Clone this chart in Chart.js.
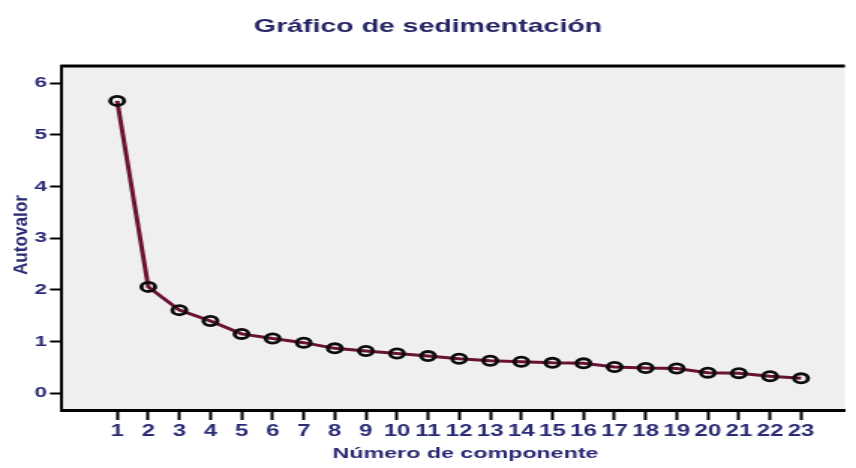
<!DOCTYPE html>
<html>
<head>
<meta charset="utf-8">
<script src="https://cdn.jsdelivr.net/npm/chart.js@4"></script>
<style>
  html, body { margin: 0; padding: 0; background: #fff; overflow: hidden; }
  #scree { display: block; transform: scaleX(1.4991); transform-origin: 0 0; }
</style>
</head>
<body>
<canvas id="scree" width="571" height="468"></canvas>
<script>
const components = [1, 2, 3, 4, 5, 6, 7, 8, 9, 10, 11, 12, 13, 14, 15, 16, 17, 18, 19, 20, 21, 22, 23];
const eigenvalues = [5.66, 2.06, 1.61, 1.40, 1.15, 1.06, 0.98, 0.87, 0.82, 0.77, 0.72, 0.67,
  0.63, 0.61, 0.59, 0.58, 0.51, 0.49, 0.48, 0.40, 0.39, 0.33, 0.29];
const yTicks = [0, 1, 2, 3, 4, 5, 6];

const navy = "#2b2b75";

const plotBg = {
  id: "plotBg",
  beforeDraw(chart) {
    const { ctx, chartArea: a } = chart;
    ctx.save();
    ctx.fillStyle = "#efefef";
    ctx.fillRect(a.left, a.top, a.right - a.left, a.bottom - a.top);
    ctx.restore();
  },
  afterDraw(chart) {
    const { ctx, chartArea: a } = chart;
    ctx.save();
    ctx.strokeStyle = "#000";
    ctx.lineWidth = 3;
    ctx.beginPath();
    ctx.moveTo(a.left - 1, a.top);
    ctx.lineTo(a.right, a.top);
    ctx.stroke();

    ctx.fillStyle = navy;
    ctx.textAlign = "center";
    ctx.textBaseline = "middle";
    // x axis title sits a bit right of the plot centre in the original
    ctx.font = "bold 15.5px 'Liberation Sans'";
    ctx.fillText("Número de componente", 310.5, 454);

    // y axis title, narrow and tall like the original
    ctx.font = "bold 12px 'Liberation Sans'";
    ctx.translate(14.5, 235);
    ctx.rotate(-Math.PI / 2);
    ctx.scale(1.43, 1);
    ctx.fillText("Autovalor", 0, 0);
    ctx.restore();
  },
};

new Chart(document.getElementById("scree"), {
  type: "line",
  data: {
    datasets: [
      {
        data: components.map((c, i) => ({ x: c, y: eigenvalues[i] })),
        borderColor: "#6a1236",
        borderWidth: 3,
        pointRadius: 4.6,
        pointBorderWidth: 2.8,
        pointBorderColor: "#0c0c0c",
        pointBackgroundColor: "rgba(0,0,0,0)",
        tension: 0,
      },
    ],
  },
  options: {
    responsive: false,
    animation: false,
    devicePixelRatio: 1,
    layout: { padding: 0 },
    plugins: {
      legend: { display: false },
      tooltip: { enabled: false },
      title: {
        display: true,
        text: "Gráfico de sedimentación",
        color: "#262666",
        font: { family: "'Liberation Sans'", size: 19, weight: "bold" },
        padding: { top: 15, bottom: 28.2 },
      },
    },
    scales: {
      x: {
        type: "linear",
        min: -0.778,
        max: 24.41,
        afterBuildTicks: (s) => { s.ticks = components.map((v) => ({ value: v })); },
        afterFit: (s) => { s.height = 58; },
        grid: { drawOnChartArea: false, drawTicks: true, tickLength: 10, tickWidth: 2, tickColor: "#000" },
        border: { display: true, color: "#000", width: 3 },
        ticks: {
          autoSkip: false,
          maxRotation: 0,
          padding: 2,
          color: navy,
          font: { family: "'Liberation Sans'", size: 16, weight: "bold" },
        },
        title: { display: false },
      },
      y: {
        min: -0.323,
        max: 6.335,
        afterBuildTicks: (s) => { s.ticks = yTicks.map((v) => ({ value: v })); },
        afterFit: (s) => { s.width = 41.3; },
        grid: { drawOnChartArea: false, drawTicks: true, tickLength: 8, tickWidth: 2, tickColor: "#000" },
        border: { display: true, color: "#000", width: 2 },
        ticks: {
          padding: 2,
          color: navy,
          font: { family: "'Liberation Sans Narrow', 'Liberation Sans'", size: 15, weight: "bold" },
        },
        title: { display: false },
      },
    },
  },
  plugins: [plotBg],
});
</script>
</body>
</html>
